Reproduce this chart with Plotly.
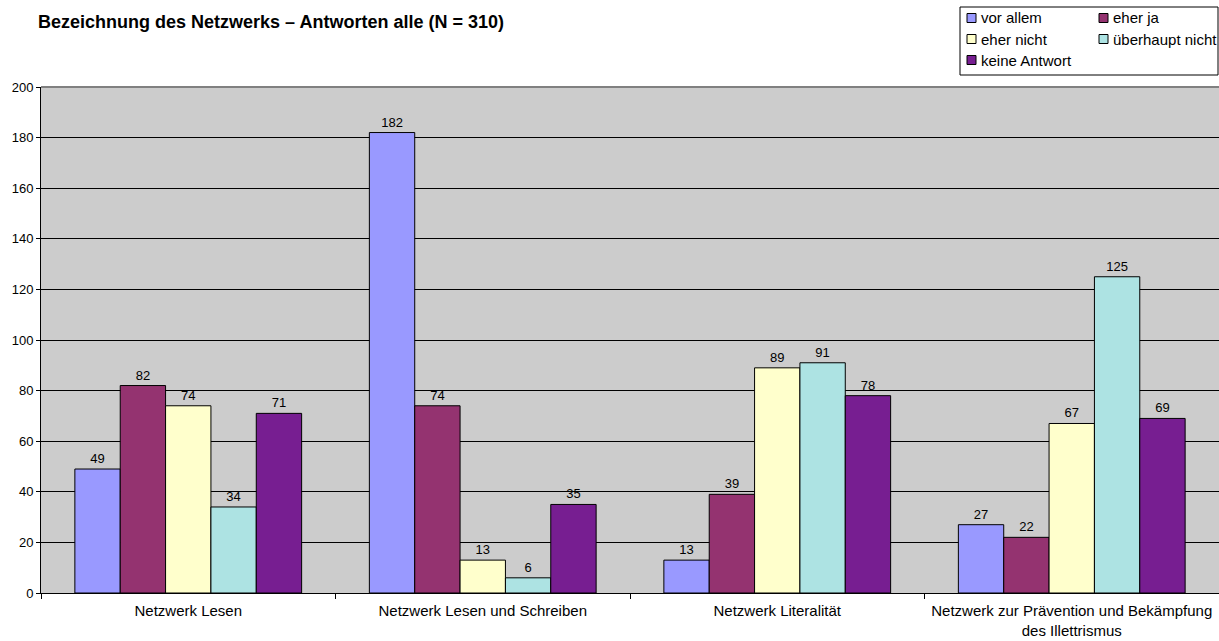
import plotly.graph_objects as go

categories = [
    "Netzwerk Lesen",
    "Netzwerk Lesen und Schreiben",
    "Netzwerk Literalität",
    "Netzwerk zur Prävention und Bekämpfung<br>des Illettrismus",
]
series_names = ["vor allem", "eher ja", "eher nicht", "überhaupt nicht", "keine Antwort"]
vor_allem = [49, 182, 13, 27]
eher_ja = [82, 74, 39, 22]
eher_nicht = [74, 13, 89, 67]
ueberhaupt_nicht = [34, 6, 91, 125]
keine_antwort = [71, 35, 78, 69]
series_values = [vor_allem, eher_ja, eher_nicht, ueberhaupt_nicht, keine_antwort]
colors = ["#9999FF", "#943370", "#FFFFCC", "#ADE3E3", "#771E91"]
y_ticks = list(range(0, 201, 20))

W, H = 1219, 641
M_L, M_R, M_T, M_B = 41, 0, 87, 48
FONT = "Liberation Sans, Arial"

fig = go.Figure()
for name, vals, col in zip(series_names, series_values, colors):
    fig.add_trace(go.Bar(
        name=name, x=categories, y=vals,
        marker=dict(color=col, line=dict(color="#000000", width=1)),
        text=[str(v) for v in vals], textposition="outside",
        textfont=dict(family=FONT, size=13, color="#000000"),
        cliponaxis=False, showlegend=False,
    ))

# legend box drawn in paper coordinates (pixel positions converted)
pw = W - M_L - M_R
ph = H - M_T - M_B
def px_x(x):
    return (x - M_L) / pw
def px_y(y):
    return (H - M_B - y) / ph

shapes = [dict(type="rect", xref="paper", yref="paper",
               x0=px_x(960), x1=px_x(1218), y0=px_y(75), y1=px_y(7),
               line=dict(color="#000000", width=1), fillcolor="#FFFFFF", layer="above")]
annotations = []
positions = [(967, 18), (1099, 18), (967, 39), (1099, 39), (967, 60)]
for name, col, (lx, ly) in zip(series_names, colors, positions):
    shapes.append(dict(type="rect", xref="paper", yref="paper",
                       x0=px_x(lx), x1=px_x(lx + 9), y0=px_y(ly + 4.5), y1=px_y(ly - 4.5),
                       line=dict(color="#000000", width=1), fillcolor=col, layer="above"))
    annotations.append(dict(xref="paper", yref="paper", x=px_x(lx + 12), y=px_y(ly),
                            xanchor="left", yanchor="middle", showarrow=False, text=name,
                            font=dict(family=FONT, size=15, color="#000000")))
# grey top border of the plot area
shapes.append(dict(type="line", xref="paper", yref="paper", x0=0, x1=1, y0=1, y1=1,
                   line=dict(color="#808080", width=2), layer="above"))

fig.update_layout(
    width=W, height=H,
    margin=dict(l=M_L, r=M_R, t=M_T, b=M_B),
    paper_bgcolor="#FFFFFF", plot_bgcolor="#CCCCCC",
    barmode="group", bargap=0.23, bargroupgap=0,
    title=dict(text="<b>Bezeichnung des Netzwerks – Antworten alle (N = 310)</b>",
               x=38 / W, xanchor="left", y=1 - 22 / H, yanchor="middle",
               font=dict(family=FONT, size=18, color="#000000")),
    font=dict(family=FONT, size=13, color="#000000"),
    shapes=shapes, annotations=annotations,
    xaxis=dict(showgrid=False, showline=True, linecolor="#000000", linewidth=1,
               ticks="outside", ticklen=5, tickcolor="#000000", tickson="boundaries",
               tickfont=dict(size=15), ticklabelstandoff=4, range=[-0.5, 3.5]),
    yaxis=dict(range=[0, 200], tickvals=y_ticks, showgrid=True, gridcolor="#000000",
               gridwidth=1, showline=True, linecolor="#000000", linewidth=1,
               ticks="outside", ticklen=4, tickcolor="#000000", zeroline=False,
               tickfont=dict(size=13)),
)

fig.write_html("out.html")
